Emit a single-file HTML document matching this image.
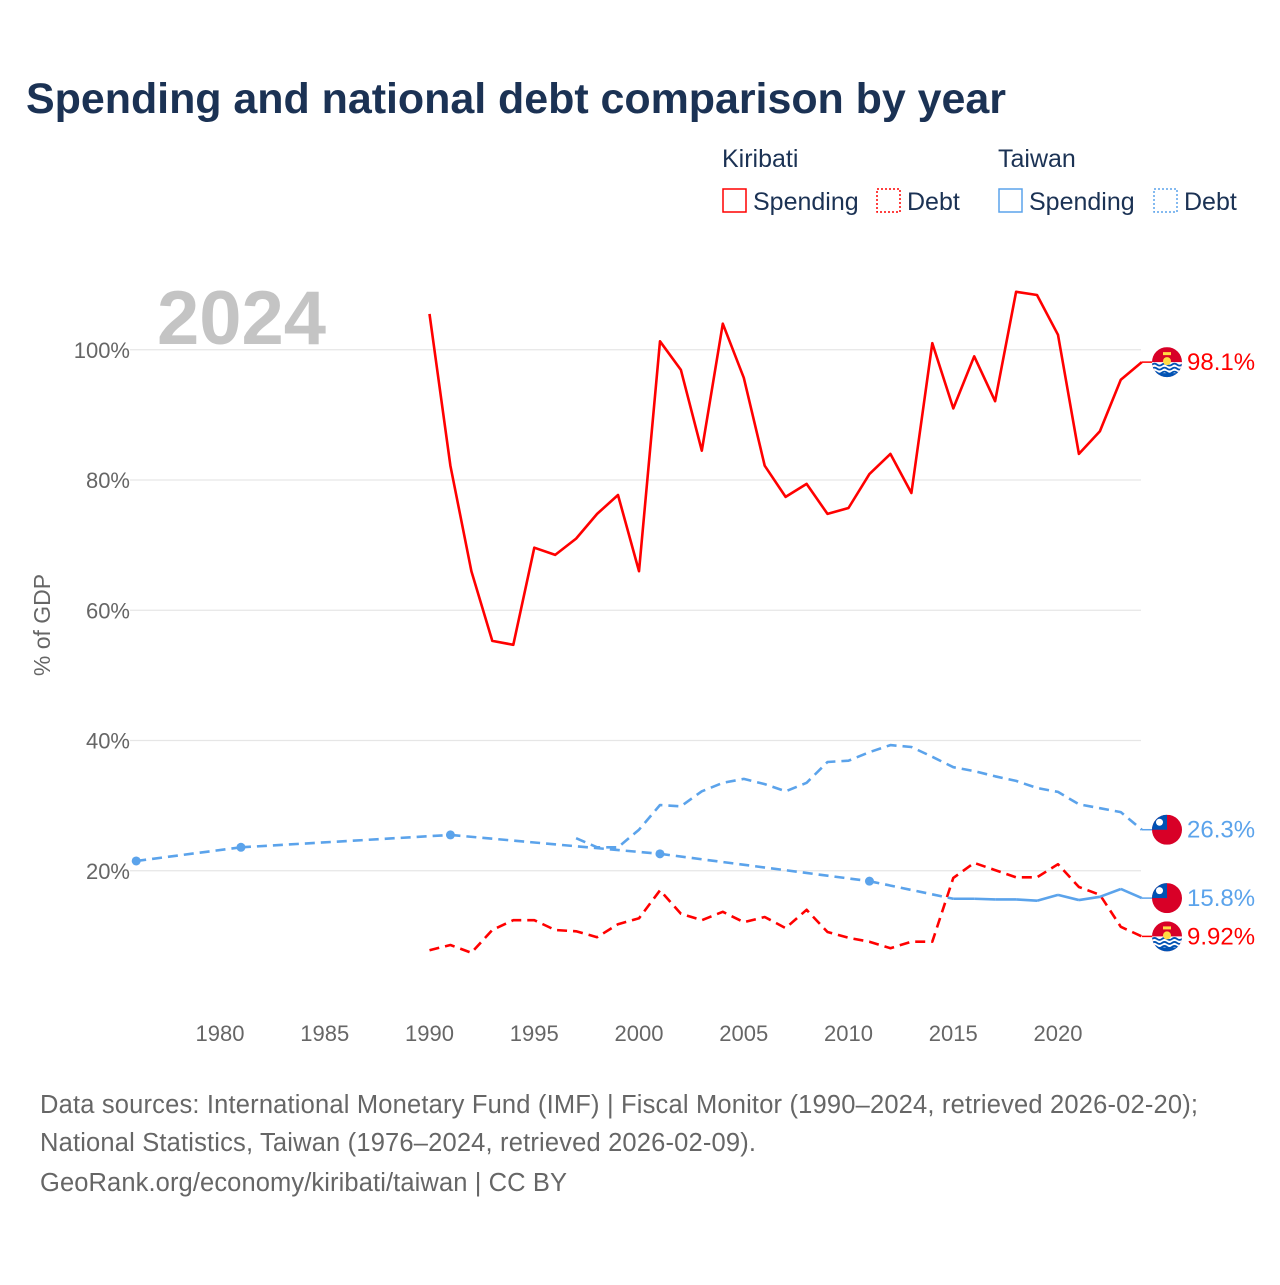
<!DOCTYPE html>
<html><head><meta charset="utf-8"><style>
body{margin:0;background:#fff;font-family:"Liberation Sans",sans-serif}
svg text{font-family:"Liberation Sans",sans-serif}
</style></head><body>
<svg width="1280" height="1280" viewBox="0 0 1280 1280">
<text x="26" y="113" font-size="43" font-weight="bold" fill="#1b3254" textLength="980">Spending and national debt comparison by year</text>
<g font-size="25" fill="#1b3254">
<text x="722" y="167" fill="#1b3254">Kiribati</text>
<text x="998" y="167" fill="#1b3254">Taiwan</text>
<g><rect x="723" y="189" width="23" height="23" fill="none" stroke="#ff0000" stroke-width="1.5"/><text x="753" y="210" fill="#1b3254">Spending</text></g>
<g><rect x="877" y="189" width="23" height="23" fill="none" stroke="#ff0000" stroke-width="1.5" stroke-dasharray="2,2"/><text x="907" y="210" fill="#1b3254">Debt</text></g>
<g><rect x="999" y="189" width="23" height="23" fill="none" stroke="#5ba3eb" stroke-width="1.5"/><text x="1029" y="210" fill="#1b3254">Spending</text></g>
<g><rect x="1154" y="189" width="23" height="23" fill="none" stroke="#5ba3eb" stroke-width="1.5" stroke-dasharray="2,2"/><text x="1184" y="210" fill="#1b3254">Debt</text></g>
</g>
<text x="157" y="344" font-size="76" font-weight="bold" fill="#c4c4c4">2024</text>
<text transform="translate(50,625) rotate(-90)" text-anchor="middle" font-size="23" fill="#666">% of GDP</text>
<g id="grid"></g><g id="series"></g><g id="ends"></g>
<g font-size="25.5" fill="#666">
<text x="40" y="1113" textLength="1158">Data sources: International Monetary Fund (IMF) | Fiscal Monitor (1990–2024, retrieved 2026-02-20);</text>
<text x="40" y="1151" textLength="716">National Statistics, Taiwan (1976–2024, retrieved 2026-02-09).</text>
<text x="40" y="1191" textLength="527">GeoRank.org/economy/kiribati/taiwan | CC BY</text>
</g>
</svg>
<script>
const yTicks=[20,40,60,80,100];
const xTicks=[1980,1985,1990,1995,2000,2005,2010,2015,2020];
const kirYears=[1990,1991,1992,1993,1994,1995,1996,1997,1998,1999,2000,2001,2002,2003,2004,2005,2006,2007,2008,2009,2010,2011,2012,2013,2014,2015,2016,2017,2018,2019,2020,2021,2022,2023,2024];
const kirSpending=[105.5,82.2,66,55.3,54.7,69.6,68.5,71,74.8,77.7,66,101.3,96.9,84.5,104,95.7,82.2,77.4,79.4,74.8,75.7,80.9,84,78,101,91,99,92.1,108.9,108.4,102.3,84,87.5,95.4,98.1];
const kirDebt=[7.8,8.6,7.4,10.9,12.4,12.4,10.9,10.7,9.8,11.8,12.7,17,13.4,12.4,13.7,12.1,12.9,11.2,14,10.6,9.7,9.1,8.1,9.1,9.1,18.9,21.2,20.1,19,19,21,17.5,16.3,11.4,9.92];
const twDebtYears=[1997,1998,1999,2000,2001,2002,2003,2004,2005,2006,2007,2008,2009,2010,2011,2012,2013,2014,2015,2016,2017,2018,2019,2020,2021,2022,2023,2024];
const twDebt=[25,23.6,23.6,26.3,30.1,29.9,32.2,33.5,34.1,33.3,32.2,33.5,36.7,36.9,38.2,39.3,39,37.5,35.9,35.3,34.5,33.8,32.7,32.1,30.2,29.6,29,26.3];
const twSpendYears=[1976,1981,1991,2001,2011,2015,2016,2017,2018,2019,2020,2021,2022,2023,2024];
const twSpending=[21.5,23.6,25.5,22.6,18.4,15.7,15.7,15.6,15.6,15.4,16.3,15.5,16,17.2,15.8];
const endLabels=["98.1%","9.92%","26.3%","15.8%"];

const X=y=>220+(y-1980)*20.95, Y=v=>1001-v*6.5125;
const NS="http://www.w3.org/2000/svg";
function mk(t,a,p){const e=document.createElementNS(NS,t);for(const k in a)e.setAttribute(k,a[k]);p.appendChild(e);return e;}
const grid=document.getElementById('grid'),ser=document.getElementById('series'),ends=document.getElementById('ends');
yTicks.forEach(v=>{
 const l=mk('line',{x1:130,x2:1141,y1:Y(v),y2:Y(v),stroke:'#e6e6e6','stroke-width':1.3},grid);
 
 
 const t=mk('text',{x:130,y:Y(v)+8,'text-anchor':'end','font-size':22,fill:'#666'},grid);t.textContent=v+'%';
 
 
});
xTicks.forEach(y=>{
 const t=mk('text',{x:X(y),y:1041,'text-anchor':'middle','font-size':22,fill:'#666'},grid);t.textContent=y;
 
 
});
function line(xs,vs,col,dash,name){
 const d=xs.map((y,i)=>(i?'L':'M')+X(y).toFixed(1)+','+Y(vs[i]).toFixed(1)).join('');
 const p=mk('path',{d:d,fill:'none',stroke:col,'stroke-width':2.6,'stroke-linejoin':'round'},ser);
 if(dash)p.setAttribute('stroke-dasharray','10,6');
 
 
}
line(kirYears,kirSpending,'#ff0000',false,'kiribati-spending-line');
line(kirYears,kirDebt,'#ff0000',true,'kiribati-debt-line');
line(twDebtYears,twDebt,'#5ba3eb',true,'taiwan-debt-line');
for(let i=1;i<twSpendYears.length;i++){
 const gap=twSpendYears[i]-twSpendYears[i-1]>1;
 const s=mk('line',{x1:X(twSpendYears[i-1]),y1:Y(twSpending[i-1]),x2:X(twSpendYears[i]),y2:Y(twSpending[i]),stroke:'#5ba3eb','stroke-width':2.6},ser);
 if(gap)s.setAttribute('stroke-dasharray','10,6');
 
 
}
twSpendYears.forEach((y,i)=>{
 const iso=(i==0||twSpendYears[i]-twSpendYears[i-1]>1)&&(i==twSpendYears.length-1||twSpendYears[i+1]-y>1);
 if(iso){const c=mk('circle',{cx:X(y),cy:Y(twSpending[i]),r:4.5,fill:'#5ba3eb'},ser);
 
 }
});
function flag(cx,cy,kind){
 const g=mk('g',{},ends);
 
 
 const id='c'+Math.round(cy);
 const cp=mk('clipPath',{id:id},g);mk('circle',{cx:cx,cy:cy,r:15},cp);
 const h=mk('g',{'clip-path':'url(#'+id+')'},g);
 if(kind=='kiribati'){
  mk('rect',{x:cx-15,y:cy-15,width:30,height:30,fill:'#d80027'},h);
  mk('rect',{x:cx-15,y:cy,width:30,height:15,fill:'#fff'},h);
  for(let k=0;k<3;k++)mk('path',{d:`M${cx-15},${cy+2.5+k*4} q2.5,-2 5,0 t5,0 t5,0 t5,0 t5,0 t5,0`,fill:'none',stroke:'#0052b4','stroke-width':1.8},h);
  mk('rect',{x:cx-15,y:cy+11,width:30,height:5,fill:'#0052b4'},h);
  mk('circle',{cx:cx,cy:cy-1,r:4,fill:'#ffda44'},h);
  mk('rect',{x:cx-4,y:cy-10,width:8,height:3,fill:'#ffda44'},h);
 }else{
  mk('rect',{x:cx-15,y:cy-15,width:30,height:30,fill:'#d80027'},h);
  mk('rect',{x:cx-15,y:cy-15,width:15,height:15,fill:'#0052b4'},h);
  mk('circle',{cx:cx-7.5,cy:cy-7.5,r:3.5,fill:'#fff'},h);
 }
}
const endData=[[kirSpending[kirSpending.length-1],'#ff0000','kiribati'],[kirDebt[kirDebt.length-1],'#ff0000','kiribati'],[twDebt[twDebt.length-1],'#5ba3eb','taiwan'],[twSpending[twSpending.length-1],'#5ba3eb','taiwan']];
endData.forEach((e,i)=>{
 const ly=Y(e[0]);
 mk('line',{x1:X(2024),x2:1152,y1:ly,y2:ly,stroke:e[1],'stroke-width':1.5},ends);
 flag(1167,ly,e[2]);
 const t=mk('text',{x:1187,y:ly+8,'font-size':24,fill:e[1]},ends);t.textContent=endLabels[i];
 
 
});
</script>
</body></html>
